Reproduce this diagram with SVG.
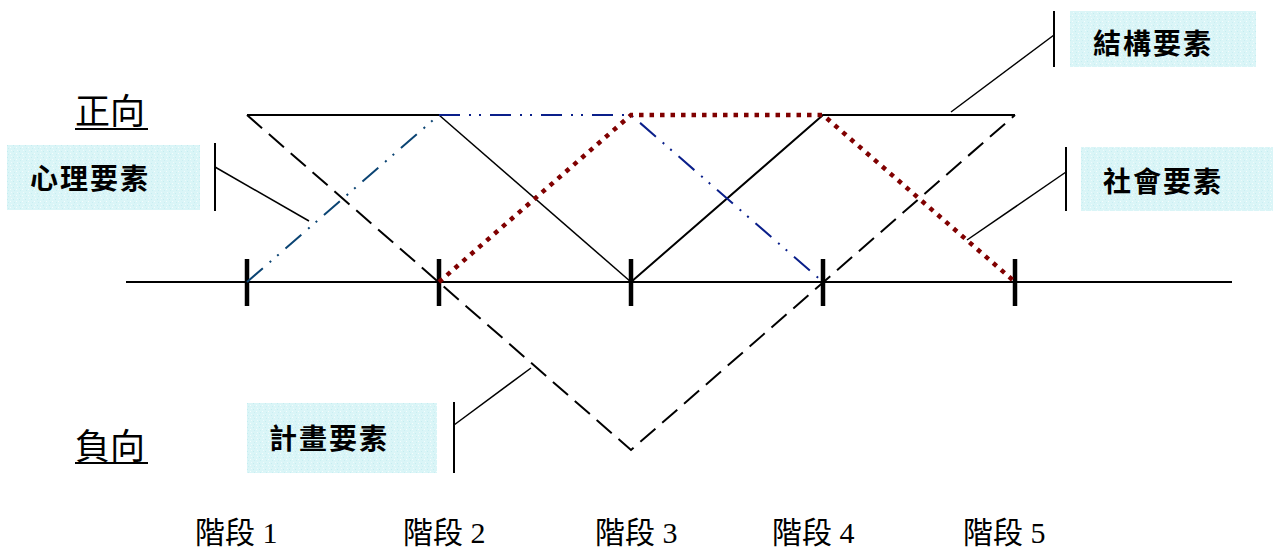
<svg xmlns="http://www.w3.org/2000/svg" width="1273" height="547" viewBox="0 0 1273 547">
  <style>
    .axis { stroke: #000; stroke-width: 2; fill: none; }
    .tick { stroke: #000; stroke-width: 4.5; }
    .structure { stroke: #000; stroke-width: 2; fill: none; stroke-linejoin: miter; }
    .plan { stroke: #000; stroke-width: 2; fill: none; stroke-dasharray: 20 9; }
    .psych { stroke-width: 2; fill: none; stroke-dasharray: 21 9 2 8 2 9; }
    .social { stroke: #800000; stroke-width: 4.5; fill: none; stroke-dasharray: 4.5 6; }
    .bar { stroke: #000; stroke-width: 2; }
    .leader { stroke: #000; stroke-width: 1.5; fill: none; }
    .box { fill: url(#speckle); }
    .tag { font-family: "Noto Sans CJK TC", "Noto Sans CJK SC", sans-serif; font-weight: 700; font-size: 28px; fill: #000; letter-spacing: 2px; }
    .dir { font-family: "Liberation Serif", "Noto Sans CJK TC", serif; font-size: 35px; fill: #000; }
    .stage { font-family: "Liberation Serif", "Noto Sans CJK TC", serif; font-size: 30px; fill: #000; }
  </style>
  <defs>
    <pattern id="speckle" width="6" height="6" patternUnits="userSpaceOnUse">
      <rect width="6" height="6" fill="#daf5f7"/>
      <rect x="1" y="1" width="1" height="1" fill="#c4ecf0"/>
      <rect x="4" y="3" width="1" height="1" fill="#f4fdfd"/>
      <rect x="2" y="4" width="1" height="1" fill="#c9eef2"/>
      <rect x="5" y="0" width="1" height="1" fill="#eefbfc"/>
    </pattern>
  </defs>

  <rect width="1273" height="547" fill="#fff"/>

  <!-- time axis with stage ticks -->
  <g id="axis">
    <line class="axis" x1="126" y1="282" x2="1232" y2="282"/>
    <line class="tick" x1="247" y1="259" x2="247" y2="306"/>
    <line class="tick" x1="439" y1="259" x2="439" y2="306"/>
    <line class="tick" x1="631" y1="259" x2="631" y2="306"/>
    <line class="tick" x1="823" y1="259" x2="823" y2="306"/>
    <line class="tick" x1="1015" y1="259" x2="1015" y2="306"/>
  </g>

  <!-- factor curves -->
  <g id="connectors">
    <polyline class="structure" points="247,115 439,115"/>
    <line x1="439" y1="115" x2="631" y2="282" stroke="#000" stroke-width="1.5"/>
    <polyline class="structure" points="631,282 823,115 1015,115"/>
    <polyline class="plan" points="247,115 631,450 1015,115"/>
    <line class="psych" stroke="#0b4473" x1="247" y1="282" x2="439" y2="115"/>
    <polyline class="psych" stroke="#0a1f8a" points="439,115 631,115 823,282"/>
    <polyline class="social" points="439,282 631,115 823,115 1015,282"/>
  </g>

  <!-- direction labels -->
  <g id="positive">
    <text class="dir" x="75" y="124">正向</text>
    <line x1="75" y1="129" x2="148" y2="129" stroke="#000" stroke-width="2"/>
  </g>
  <g id="negative">
    <text class="dir" x="75" y="459">負向</text>
    <line x1="75" y1="463" x2="148" y2="463" stroke="#000" stroke-width="2"/>
  </g>

  <!-- factor callouts -->
  <g id="structure-factor">
    <rect class="box" x="1070" y="11" width="186" height="56"/>
    <text class="tag" x="1093" y="54">結構要素</text>
    <line class="bar" x1="1054" y1="11" x2="1054" y2="67"/>
    <line class="leader" x1="1054" y1="35" x2="951" y2="112"/>
  </g>
  <g id="social-factor">
    <rect class="box" x="1081" y="147" width="192" height="64"/>
    <text class="tag" x="1103" y="192">社會要素</text>
    <line class="bar" x1="1066" y1="147" x2="1066" y2="211"/>
    <line class="leader" x1="1066" y1="172" x2="967" y2="240"/>
  </g>
  <g id="psych-factor">
    <rect class="box" x="7" y="145" width="193" height="65"/>
    <text class="tag" x="30" y="189">心理要素</text>
    <line class="bar" x1="215" y1="143" x2="215" y2="211"/>
    <line class="leader" x1="215" y1="167" x2="309" y2="221"/>
  </g>
  <g id="plan-factor">
    <rect class="box" x="247" y="403" width="190" height="70"/>
    <text class="tag" x="269" y="449">計畫要素</text>
    <line class="bar" x1="454" y1="402" x2="454" y2="473"/>
    <line class="leader" x1="454" y1="425" x2="531" y2="368"/>
  </g>

  <!-- stage labels -->
  <g id="stages">
    <text class="stage" x="195" y="543">階段 1</text>
    <text class="stage" x="403" y="543">階段 2</text>
    <text class="stage" x="595" y="543">階段 3</text>
    <text class="stage" x="772" y="543">階段 4</text>
    <text class="stage" x="963" y="543">階段 5</text>
  </g>
</svg>
